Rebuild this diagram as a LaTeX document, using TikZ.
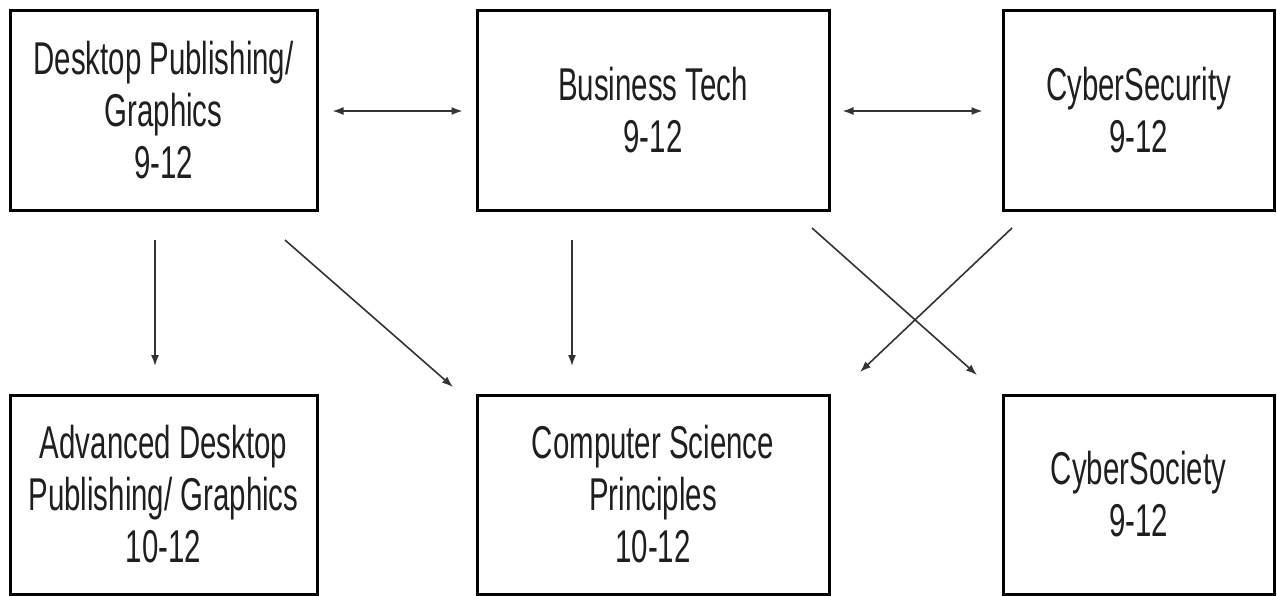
\documentclass[tikz,border=0pt]{standalone}
\usepackage{fontspec}
\newfontfamily\boxfont[FakeStretch=0.64]{Liberation Sans}
\usetikzlibrary{arrows.meta}
\begin{document}
\begin{tikzpicture}[x=1pt,y=-1pt,
  course/.style={draw=black, line width=3pt, fill=white, inner sep=0pt,
    align=center, text=black!88,
    font=\boxfont\fontsize{46}{52}\selectfont},
  link/.style={draw=black!80, line width=1.6pt,
    -{Latex[length=11pt,width=8pt]}},
  biLink/.style={link, {Latex[length=11pt,width=8pt]}-{Latex[length=11pt,width=8pt]}}
]
\useasboundingbox (0,0) rectangle (1277,595);
\clip (0,0) rectangle (1277,595);
\node[course, minimum width=307pt, minimum height=200pt] (dtp) at (163.5,110)
  {Desktop Publishing/\\Graphics\\9-12};
\node[course, minimum width=352pt, minimum height=200pt] (bt) at (653,110)
  {Business Tech\\9-12};
\node[course, minimum width=271pt, minimum height=200pt] (cyb) at (1138.5,110)
  {CyberSecurity\\9-12};
\node[course, minimum width=307pt, minimum height=199pt] (adtp) at (163.5,494.5)
  {Advanced Desktop\\Publishing/ Graphics\\10-12};
\node[course, minimum width=352pt, minimum height=199pt] (csp) at (653,494.5)
  {Computer Science\\Principles\\10-12};
\node[course, minimum width=271pt, minimum height=199pt] (soc) at (1138.5,494.5)
  {CyberSociety\\9-12};

% free ends of connectors
\coordinate (v1s) at (155,240);   \coordinate (v1e) at (155,366);
\coordinate (d1s) at (285,240);   \coordinate (d1e) at (453,387);
\coordinate (v2s) at (572,240);   \coordinate (v2e) at (572,366);
\coordinate (d2s) at (812,228);   \coordinate (d2e) at (977,375);
\coordinate (d3s) at (1012,228);  \coordinate (d3e) at (860,372);

\draw[biLink, shorten <=14pt, shorten >=13pt] ([yshift=-1pt]dtp.east) -- ([yshift=-1pt]bt.west);
\draw[biLink, shorten <=12pt, shorten >=19pt] ([yshift=-1pt]bt.east) -- ([yshift=-1pt]cyb.west);
\draw[link] (v1s) -- (v1e);
\draw[link] (d1s) -- (d1e);
\draw[link] (v2s) -- (v2e);
\draw[link] (d2s) -- (d2e);
\draw[link] (d3s) -- (d3e);
\end{tikzpicture}
\end{document}
